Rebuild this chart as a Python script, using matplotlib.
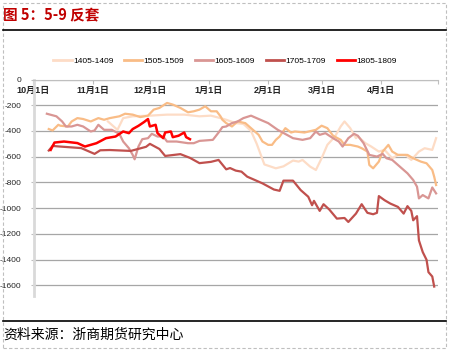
import matplotlib
matplotlib.use('Agg')
import matplotlib.pyplot as plt
import matplotlib.patches as mpatches
import matplotlib.lines as mlines
import pandas as pd

plt.rcParams['font.family'] = ['Liberation Sans', 'Noto Sans CJK SC', 'DejaVu Sans']

season_start = '2013-10-01'
season_end = '2014-05-01'

# x values: days since Oct 1 of each season
days_1405 = [39, 44, 47, 52, 61, 70, 79, 87, 93, 98, 101, 106, 110, 114, 117, 121, 127, 131, 136, 139,
             141, 145, 148, 151, 154, 158, 161, 163, 166, 169, 170, 174, 177, 181, 184, 188, 191, 195, 198, 202,
             205, 209, 211]
vals_1405 = [-326, -391, -300, -286, -281, -273, -273, -286, -281, -300, -313, -339, -345, -400, -500, -660, -690, -675, -630, -638,
             -625, -677, -703, -612, -508, -443, -365, -326, -378, -456, -443, -495, -521, -560, -547, -612, -586, -586, -625, -560,
             -534, -547, -456]

days_1505 = [8, 10, 13, 14, 18, 20, 23, 26, 30, 34, 37, 40, 45, 48, 52, 56, 60, 63, 66, 70,
             73, 77, 81, 84, 87, 90, 93, 96, 98, 99, 101, 104, 107, 111, 115, 118, 120, 123, 125, 127,
             129, 132, 135, 137, 142, 148, 151, 154, 157, 161, 163, 166, 170, 172, 175, 176, 178, 181, 183, 186,
             188, 191, 196, 199, 203, 206, 209, 210, 211]
vals_1505 = [-385, -396, -352, -359, -365, -326, -300, -307, -326, -300, -313, -300, -286, -266, -273, -292, -281, -234, -221, -182,
             -195, -221, -255, -247, -234, -208, -247, -247, -286, -313, -339, -365, -326, -339, -391, -430, -482, -508, -508, -469,
             -443, -378, -412, -404, -412, -391, -359, -378, -437, -469, -508, -508, -521, -534, -560, -664, -690, -638, -560, -508,
             -560, -586, -586, -612, -638, -651, -703, -755, -820]

days_1605 = [7, 12, 15, 17, 20, 23, 26, 30, 32, 34, 37, 41, 45, 47, 50, 52, 53, 55, 57, 60,
             62, 65, 68, 70, 75, 81, 84, 87, 94, 97, 99, 101, 104, 107, 110, 114, 118, 123, 128, 136,
             141, 145, 148, 150, 153, 157, 160, 162, 165, 168, 170, 173, 176, 180, 183, 185, 188, 192, 196, 199,
             201, 202, 204, 207, 209, 211]
vals_1605 = [-266, -286, -326, -365, -365, -352, -365, -404, -396, -352, -391, -391, -422, -482, -534, -586, -620, -521, -464, -456,
             -422, -443, -443, -482, -482, -495, -495, -477, -469, -412, -370, -365, -339, -326, -300, -281, -307, -339, -391, -456,
             -469, -456, -404, -430, -417, -456, -482, -521, -456, -422, -437, -495, -586, -599, -578, -612, -625, -677, -729, -781,
             -833, -924, -898, -924, -839, -885]

days_1705 = [8, 10, 13, 25, 32, 35, 40, 51, 59, 61, 66, 69, 77, 82, 87, 93, 97, 101, 103, 106,
             109, 112, 116, 120, 126, 129, 131, 136, 140, 144, 146, 147, 150, 152, 155, 159, 163, 165, 169, 172,
             175, 178, 180, 181, 184, 187, 191, 194, 196, 198, 199, 201, 202, 204, 206, 207, 209, 210]
vals_1705 = [-552, -516, -520, -533, -578, -550, -548, -555, -523, -500, -540, -594, -580, -609, -650, -640, -625, -698, -688, -708,
             -716, -755, -781, -807, -855, -865, -786, -786, -859, -911, -977, -943, -1021, -969, -1010, -1081, -1076, -1107, -1042, -969,
             -1036, -1047, -1036, -906, -938, -964, -990, -1042, -984, -1021, -1094, -1062, -1250, -1341, -1401, -1497, -1531, -1609]

days_1805 = [9, 11, 16, 23, 27, 29, 33, 38, 43, 47, 50, 52, 55, 58, 60, 61, 64, 65, 68, 69, 72, 73, 76, 79, 80, 82]
vals_1805 = [-547, -490, -482, -494, -521, -512, -495, -456, -443, -404, -417, -385, -360, -330, -307, -365, -352, -417, -456, -412,
             -404, -448, -437, -412, -448, -464]

series_names = ['1405-1409', '1505-1509', '1605-1609', '1705-1709', '1805-1809']
series_days = [days_1405, days_1505, days_1605, days_1705, days_1805]
series_vals = [vals_1405, vals_1505, vals_1605, vals_1705, vals_1805]
series_colors = ['#FDDCC6', '#F9BC86', '#D99694', '#C0504D', '#FF0000']
series_widths = [1.6, 1.6, 1.6, 1.6, 1.8]

tick_dates = ['2013-10-01', '2013-11-01', '2013-12-01', '2014-01-01', '2014-02-01', '2014-03-01', '2014-04-01', '2014-05-01']
tick_labels = ['10月1日', '11月1日', '12月1日', '1月1日', '2月1日', '3月1日', '4月1日', '']
y_ticks = list(range(0, -1601, -200))

title_text = '图 5：5-9 反套'
source_text = '资料来源：浙商期货研究中心'

W, H = 450, 352
fig = plt.figure(figsize=(W / 100, H / 100), dpi=100)
ax = fig.add_axes([33.5 / W, 1 - 295.7 / H, 404.5 / W, (295.7 - 79.5) / H])

start = pd.Timestamp(season_start)
for name, d, v, c, lw in zip(series_names, series_days, series_vals, series_colors, series_widths):
    x = start + pd.to_timedelta(d, unit='D')
    ax.plot(x, v, color=c, lw=lw, label=name, solid_joinstyle='round')

ax.set_xlim(pd.Timestamp(season_start), pd.Timestamp(season_end))
ax.set_ylim(-1680, 0)
ax.set_xticks(pd.to_datetime(tick_dates))
ax.set_xticklabels(tick_labels)
ax.set_yticks(y_ticks)
ax.set_yticklabels([str(t) for t in y_ticks])

ax.spines['top'].set_visible(False)
ax.spines['right'].set_visible(False)
ax.spines['bottom'].set_position(('data', 0))
ax.spines['bottom'].set_color('#BFBFBF')
ax.spines['bottom'].set_linewidth(0.8)
ax.spines['left'].set_color('#D9D9D9')
ax.spines['left'].set_linewidth(2)

ax.yaxis.grid(True, color='#A6A6A6', lw=0.9)
ax.set_axisbelow(True)

ax.tick_params(axis='x', direction='out', length=3, color='#BFBFBF', pad=1.5,
               labelsize=6.5, labelcolor='#262626')
ax.tick_params(axis='y', direction='out', length=2.5, color='#BFBFBF', pad=6,
               labelsize=6, labelcolor='#262626')
for lbl in ax.get_xticklabels():
    lbl.set_fontweight('bold')

handles = [mlines.Line2D([], [], color=c, lw=2) for c in series_colors]
fig.legend(handles, series_names, loc='center', bbox_to_anchor=(0.5, 1 - 61 / H), ncol=5,
           frameon=False, fontsize=6, handlelength=2.2, handletextpad=0.15, columnspacing=1.3)

fig.text(3 / W, 1 - 15 / H, title_text, color='#C00000', fontsize=10.5, fontweight='bold',
         family=['Noto Sans CJK SC', 'DejaVu Sans'], ha='left', va='center')
fig.add_artist(mlines.Line2D([3 / W, 446 / W], [1 - 30 / H] * 2, color='black', lw=1.2,
                             transform=fig.transFigure))
fig.add_artist(mlines.Line2D([3 / W, 446 / W], [1 - 321 / H] * 2, color='black', lw=1.2,
                             transform=fig.transFigure))
fig.text(3 / W, 1 - 335 / H, source_text, color='black', fontsize=10,
         family=['Noto Sans CJK SC', 'DejaVu Sans'], ha='left', va='center')
fig.add_artist(mpatches.Rectangle((2.5 / W, 1 - 347.5 / H), 443.5 / W, 345 / H, fill=False,
                                  ls=(0, (3, 2)), ec='#BFBFBF', lw=0.8, transform=fig.transFigure))

fig.savefig('out.png', dpi=100)
